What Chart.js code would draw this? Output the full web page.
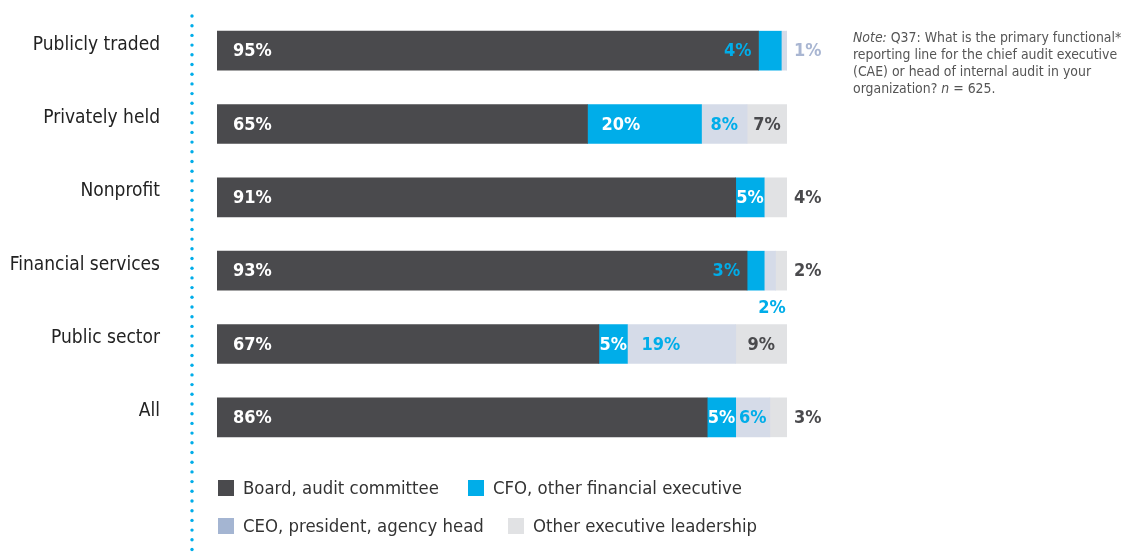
<!DOCTYPE html>
<html>
<head>
<meta charset="utf-8">
<script src="https://cdn.jsdelivr.net/npm/chart.js@4.4.1/dist/chart.umd.min.js"></script>
<style>
  body { margin: 0; background: #fff; }
  #wrap { position: relative; width: 1132px; height: 558px; font-family: "DejaVu Sans Condensed", sans-serif; }
  #note { position: absolute; left: 853px; top: 29px; width: 279px; font-size: 13.9px; line-height: 17px; color: #555; }
  .legend { position: absolute; font-size: 18.4px; color: #333; display: flex; align-items: center; }
  .legend span { display: inline-block; width: 16px; height: 16px; margin-right: 9px; }
</style>
</head>
<body>
<div id="wrap">
  <canvas id="chart" width="1132" height="558"></canvas>
  <div id="note"><i>Note:</i> Q37: What is the primary functional* reporting line for the chief audit executive (CAE) or head of internal audit in your organization? <i>n</i> = 625.</div>
  <div class="legend" style="left:218px; top:477px;"><span style="background:#4a4a4d"></span>Board, audit committee</div>
  <div class="legend" style="left:468px; top:477px;"><span style="background:#00ade9"></span>CFO, other financial executive</div>
  <div class="legend" style="left:218px; top:515px;"><span style="background:#a4b5d2"></span>CEO, president, agency head</div>
  <div class="legend" style="left:508px; top:515px;"><span style="background:#e1e2e4"></span>Other executive leadership</div>
</div>
<script>
// Categories and series values (percent)
const categories = ['Publicly traded', 'Privately held', 'Nonprofit', 'Financial services', 'Public sector', 'All'];
const boardValues = [95, 65, 91, 93, 67, 86];
const cfoValues = [4, 20, 5, 3, 5, 5];
const ceoValues = [1, 8, 0, 2, 19, 6];
const otherValues = [0, 7, 4, 2, 9, 3];

const FONT = '"DejaVu Sans Condensed", sans-serif';
const CYAN = '#00ade9';

// where each value label goes (style only)
const placement = [
    ['start', 'start', 'start', 'start', 'start', 'start'],
    ['before', 'start', 'center', 'before', 'center', 'center'],
    ['outside', 'center', null, 'below', 'start', 'center'],
    [null, 'center', 'outside', 'outside', 'center', 'outside']
];

// Dotted vertical line left of the bars
const dottedLine = {
    id: 'dottedLine',
    beforeDraw(chart) {
        const ctx = chart.ctx;
        ctx.save();
        ctx.fillStyle = CYAN;
        for (let y = 16; y < 556; y += 9.7) {
            ctx.beginPath();
            ctx.arc(192, y, 1.7, 0, Math.PI * 2);
            ctx.fill();
        }
        ctx.restore();
    }
};

// Value labels on the segments
const segLabels = {
    id: 'segLabels',
    afterDatasetsDraw(chart) {
        const ctx = chart.ctx;
        const xScale = chart.scales.x;
        ctx.save();
        ctx.font = 'bold 18px ' + FONT;
        ctx.textBaseline = 'middle';
        chart.data.datasets.forEach(function(ds, di) {
            const meta = chart.getDatasetMeta(di);
            meta.data.forEach(function(bar, i) {
                const v = ds.data[i];
                const place = placement[di][i];
                if (!v || !place) return;
                const text = v + '%';
                const left = Math.min(bar.base, bar.x);
                const right = Math.max(bar.base, bar.x);
                let rowTotal = 0;
                chart.data.datasets.forEach(function(d) { rowTotal += d.data[i]; });
                const rowEnd = xScale.getPixelForValue(rowTotal);
                let x = left, y = bar.y + 1;
                let color = '#fff';
                if (place === 'start') {
                    ctx.textAlign = 'left';
                    x = left + (di === 0 ? 16 : 14);
                    color = di === 2 ? CYAN : '#fff';
                } else if (place === 'center') {
                    ctx.textAlign = 'center';
                    x = (left + right) / 2;
                    color = di === 1 ? '#fff' : (di === 2 ? CYAN : '#4a4a4d');
                } else if (place === 'before') {
                    ctx.textAlign = 'right';
                    x = left - 7;
                    color = CYAN;
                } else if (place === 'outside') {
                    ctx.textAlign = 'left';
                    x = rowEnd + 7;
                    color = di === 2 ? '#a9b6d2' : '#4a4a4d';
                } else if (place === 'below') {
                    ctx.textAlign = 'center';
                    x = (left + right) / 2 + 2;
                    y = bar.y + bar.height / 2 + 18;
                    color = CYAN;
                }
                ctx.fillStyle = color;
                ctx.fillText(text, x, y);
            });
        });
        ctx.restore();
    }
};

new Chart(document.getElementById('chart'), {
    type: 'bar',
    data: {
        labels: categories,
        datasets: [
            { label: 'Board, audit committee', data: boardValues, backgroundColor: '#4a4a4d' },
            { label: 'CFO, other financial executive', data: cfoValues, backgroundColor: CYAN },
            { label: 'CEO, president, agency head', data: ceoValues, backgroundColor: '#d5dbe8' },
            { label: 'Other executive leadership', data: otherValues, backgroundColor: '#e1e2e4' }
        ]
    },
    options: {
        indexAxis: 'y',
        responsive: false,
        animation: false,
        layout: { padding: { top: 14, bottom: 104, right: 345, left: 0 } },
        datasets: { bar: { barThickness: 39, borderWidth: 0 } },
        plugins: { legend: { display: false }, tooltip: { enabled: false } },
        scales: {
            x: { stacked: true, min: 0, max: 100, display: false },
            y: {
                stacked: true,
                grid: { display: false, drawTicks: false },
                border: { display: false },
                afterFit: function(scale) {
                    scale.width = 217;
                    scale.paddingTop = 0;
                    scale.paddingBottom = 0;
                },
                ticks: {
                    padding: 57,
                    labelOffset: -6,
                    color: '#222',
                    font: { family: FONT, size: 19 }
                }
            }
        }
    },
    plugins: [dottedLine, segLabels]
});
</script>
</body>
</html>
